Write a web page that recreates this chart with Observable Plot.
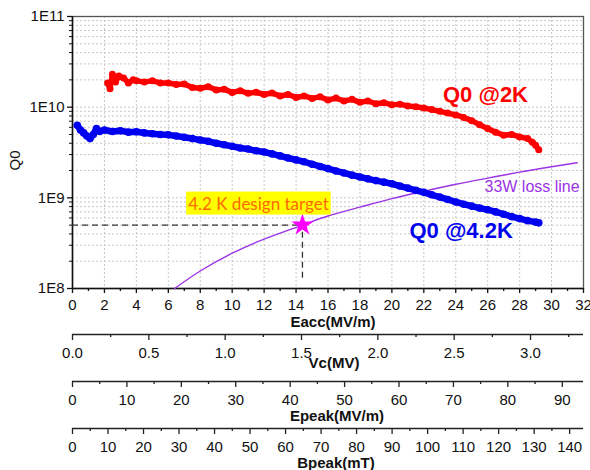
<!DOCTYPE html>
<html><head><meta charset="utf-8">
<script src="https://cdn.jsdelivr.net/npm/d3@7"></script>
<script src="https://cdn.jsdelivr.net/npm/@observablehq/plot@0.6"></script>
<style>
body{margin:0;background:#fff;}
#chart{position:relative;width:590px;height:470px;overflow:hidden;}
#chart svg{position:absolute;left:0;}
</style></head><body><div id="chart"></div>
<script>
// ---- data ----
const q0At2K = [[2.2,1.85e10],[2.35,1.6e10],[2.5,2.3e10],[2.7,1.9e10],[2.9,2.2e10],[3.2,2.1e10],[3.5,1.85e10],[3.8,2.0e10],
 [4.0,1.95e10],[4.5,1.9e10],[5.0,1.95e10],[5.5,1.85e10],[6.0,1.85e10],[6.5,1.78e10],[7.0,1.8e10],[7.5,1.65e10],[8.0,1.62e10],
 [8.5,1.68e10],[9.0,1.55e10],[9.5,1.58e10],[10.0,1.45e10],[10.5,1.52e10],[11.0,1.42e10],[11.5,1.46e10],[12.0,1.38e10],
 [12.5,1.43e10],[13.0,1.33e10],[13.5,1.38e10],[14.0,1.28e10],[14.5,1.33e10],[15.0,1.25e10],[15.5,1.3e10],[16.0,1.2e10],
 [16.5,1.26e10],[17.0,1.17e10],[17.5,1.22e10],[18.0,1.13e10],[18.5,1.17e10],[19.0,1.09e10],[19.5,1.12e10],[20.0,1.06e10],
 [20.5,1.08e10],[21.0,1.03e10],[21.5,1.01e10],[22.0,9.8e9],[22.5,9.4e9],[23.0,9.0e9],[23.5,8.6e9],[24.0,8.2e9],[24.5,7.7e9],
 [25.0,7.1e9],[25.5,6.4e9],[26.0,5.8e9],[26.5,5.3e9],[27.0,4.9e9],[27.5,5.0e9],[28.0,4.7e9],[28.5,4.5e9],[28.8,4.1e9],
 [29.0,3.8e9],[29.2,3.4e9]];
const q0At42K = [[0.3,6.3e9],[0.5,5.6e9],[0.7,5.2e9],[0.9,4.8e9],[1.1,4.5e9],[1.3,5.0e9],[1.5,5.8e9],[1.7,5.4e9],[2.0,5.6e9],
 [2.5,5.4e9],[3.0,5.5e9],[3.5,5.3e9],[4.0,5.35e9],[4.5,5.2e9],[5.0,5.1e9],[5.5,5.0e9],[6.0,4.95e9],[6.5,4.8e9],[7.0,4.65e9],
 [7.5,4.5e9],[8.0,4.35e9],[8.5,4.2e9],[9.0,4.0e9],[9.5,3.85e9],[10.0,3.7e9],[10.5,3.55e9],[11.0,3.45e9],[11.5,3.3e9],
 [12.0,3.2e9],[12.5,3.05e9],[13.0,2.9e9],[13.5,2.75e9],[14.0,2.62e9],[14.5,2.5e9],[15.0,2.35e9],[15.5,2.22e9],[16.0,2.1e9],
 [16.5,1.98e9],[17.0,1.88e9],[17.5,1.78e9],[18.0,1.7e9],[18.5,1.62e9],[19.0,1.55e9],[19.5,1.49e9],[20.0,1.43e9],[20.5,1.35e9],
 [21.0,1.28e9],[21.5,1.21e9],[22.0,1.15e9],[22.5,1.08e9],[23.0,1.02e9],[23.5,9.6e8],[24.0,9.0e8],[24.5,8.5e8],[25.0,8.1e8],
 [25.5,7.7e8],[26.0,7.4e8],[26.5,7.0e8],[27.0,6.6e8],[27.5,6.2e8],[28.0,5.9e8],[28.5,5.6e8],[29.0,5.4e8],[29.2,5.3e8]];
const lossLine33W = [[6.4,1.0e8],[8,1.56e8],[10,2.45e8],[12,3.5e8],[14.4,5.0e8],[16,6.3e8],[18,7.9e8],[20,9.8e8],[22,1.18e9],
 [24,1.41e9],[26,1.65e9],[28,1.92e9],[30,2.2e9],[31.6,2.44e9]];
const designTarget = [{eacc:14.4, q0:5e8, floor:1.3e8, label:"4.2 K design target"}];
const seriesLabels = [
  {text:"Q0 @2K", eacc:23.2, q0:1.38e10, color:"#ff0000"},
  {text:"Q0 @4.2K", eacc:21.1, q0:4.3e8, color:"#0000ee"}
];
const lossLabel = [{text:"33W loss line", eacc:25.8, q0:1.31e9}];

const eaccTicks = [0,2,4,6,8,10,12,14,16,18,20,22,24,26,28,30,32];
const eaccMinor = [1,3,5,7,9,11,13,15,17,19,21,23,25,27,29,31];
const q0Ticks = [1e8,1e9,1e10,1e11];
const q0TickLabels = ["1E8","1E9","1E10","1E11"];
const vcTicks = [0,0.5,1.0,1.5,2.0,2.5,3.0];
const vcMinor = [0.25,0.75,1.25,1.75,2.25,2.75,3.25];
const epeakTicks = [0,10,20,30,40,50,60,70,80,90];
const epeakMinor = [5,15,25,35,45,55,65,75,85];
const bpeakTicks = [0,10,20,30,40,50,60,70,80,90,100,110,120,130,140];
const bpeakMinor = [5,15,25,35,45,55,65,75,85,95,105,115,125,135];
const eaccMax = 32, vcMax = 3.347, epeakMax = 93.9, bpeakMax = 143.9;

// ---- drawing ----
const FONT = "Arial, 'Liberation Sans', sans-serif";
const q0Minor = [];
for (const d of [1e8,1e9,1e10]) for (let k=2;k<=9;k++) q0Minor.push(k*d);
const toPts = arr => arr.map(([x,y]) => ({x, y}));
const red = toPts(q0At2K), blue = toPts(q0At42K), loss = toPts(lossLine33W);
const purple = "#9b33e6";
const root = document.getElementById("chart");

const main = Plot.plot({
  width:590, height:335, marginLeft:72, marginRight:7, marginTop:16, marginBottom:47,
  style:{fontFamily:FONT, fontSize:"15px", color:"#111", background:"transparent", overflow:"visible"},
  x:{domain:[0,eaccMax], axis:null, label:null},
  y:{type:"log", domain:[1e8,1e11], axis:null, label:null},
  marks:[
    Plot.gridX({ticks:eaccTicks, stroke:"#c8c8c8", strokeOpacity:1, strokeDasharray:"2,2"}),
    Plot.gridY({ticks:q0Minor.concat(q0Ticks), stroke:"#c8c8c8", strokeOpacity:1, strokeDasharray:"2,2"}),
    Plot.frame({stroke:"#555", strokeWidth:1.3}),
    Plot.ruleY([1e8], {stroke:"#111", strokeWidth:1.5}),
    Plot.ruleX([0], {stroke:"#111", strokeWidth:1.5}),
    Plot.axisX({ticks:eaccTicks, tickSize:5, tickPadding:6, tickFormat:d=>String(d), label:null, stroke:"#111", strokeWidth:1.3}),
    Plot.axisX({ticks:eaccMinor, tickSize:3, tickFormat:()=>"", label:null, stroke:"#111", strokeWidth:1.3}),
    Plot.axisY({ticks:q0Ticks, tickSize:5, tickPadding:3, tickFormat:d=>q0TickLabels[q0Ticks.indexOf(d)], label:null, stroke:"#111", strokeWidth:1.3}),
    Plot.axisY({ticks:q0Minor, tickSize:3, tickFormat:()=>"", label:null, stroke:"#111"}),
    Plot.text(["Eacc(MV/m)"], {text:d=>d, frameAnchor:"bottom", lineAnchor:"middle", dy:34, dx:5, fontWeight:"bold", fontSize:15, fill:"#111"}),
    Plot.text(["Q0"], {text:d=>d, frameAnchor:"left", textAnchor:"middle", lineAnchor:"middle", rotate:-90, dx:-57, dy:8, fontSize:15, fill:"#111"}),
    Plot.line(loss, {x:"x", y:"y", stroke:purple, strokeWidth:1.4, curve:"natural"}),
    Plot.ruleY(designTarget, {x1:0, x2:"eacc", y:"q0", stroke:"#333", strokeWidth:1.3, strokeDasharray:"6,4"}),
    Plot.ruleX(designTarget, {x:"eacc", y1:"floor", y2:"q0", stroke:"#333", strokeWidth:1.3, strokeDasharray:"6,4"}),
    Plot.line(blue, {x:"x", y:"y", stroke:"#0000f0", strokeWidth:6.5}),
    Plot.dot(blue, {x:"x", y:"y", fill:"#0000f0", r:3.8}),
    Plot.line(red, {x:"x", y:"y", stroke:"#ff0000", strokeWidth:5.5}),
    Plot.dot(red, {x:"x", y:"y", fill:"#ff0000", r:3.5}),
    Plot.dot(designTarget, {x:"eacc", y:"q0", symbol:"star", fill:"#ff00ff", r:7}),
    Plot.text(designTarget, {x:"eacc", y:"q0", text:"label", dx:-44, dy:-21, fill:"#ff6a00", fontSize:17, fontFamily:"Lato, 'Open Sans', sans-serif", className:"target-label"}),
    Plot.text(seriesLabels.slice(0,1), {x:"eacc", y:"q0", text:"text", textAnchor:"start", fill:"#ff0000", fontSize:22, fontWeight:"bold"}),
    Plot.text(seriesLabels.slice(1,2), {x:"eacc", y:"q0", text:"text", textAnchor:"start", fill:"#0000ee", fontSize:22, fontWeight:"bold"}),
    Plot.text(lossLabel, {x:"eacc", y:"q0", text:"text", textAnchor:"start", fill:purple, fontSize:16})
  ]
});
main.style.top = "0px";
root.appendChild(main);

// yellow background behind the design-target label
const tg = main.querySelector("g.target-label text");
if (tg) {
  const b = tg.getBBox();
  const r = document.createElementNS("http://www.w3.org/2000/svg","rect");
  r.setAttribute("x", b.x-2); r.setAttribute("y", b.y-1);
  r.setAttribute("width", b.width+4); r.setAttribute("height", b.height+2);
  r.setAttribute("fill", "#ffff00");
  const tr = tg.getAttribute("transform");
  if (tr) r.setAttribute("transform", tr);
  tg.parentNode.insertBefore(r, tg);
}

function extraAxis(top, max, ticks, minor, fmt, label, labelDy, labelDx) {
  const p = Plot.plot({
    width:590, height:46, marginLeft:72, marginRight:7, marginTop:2, marginBottom:44,
    style:{fontFamily:FONT, fontSize:"15px", color:"#111", background:"transparent", overflow:"visible"},
    x:{domain:[0,max], axis:null, label:null},
    y:{domain:[0,1], range:[2,2], axis:null, label:null},
    marks:[
      Plot.ruleY([0], {stroke:"#222", strokeWidth:1.6}),
      Plot.axisX({ticks, tickSize:6, tickPadding:7, tickFormat:fmt, label:null, stroke:"#222", strokeWidth:1.3}),
      Plot.axisX({ticks:minor, tickSize:3, tickFormat:()=>"", label:null, stroke:"#222", strokeWidth:1.3}),
      Plot.text([label], {text:d=>d, frameAnchor:"bottom", lineAnchor:"middle", dy:labelDy, dx:labelDx, fontWeight:"bold", fontSize:15, fill:"#111"})
    ]
  });
  p.style.top = top + "px";
  root.appendChild(p);
}
extraAxis(332, vcMax, vcTicks, vcMinor, d=>d.toFixed(1), "Vc(MV)", 29, 6);
extraAxis(379, epeakMax, epeakTicks, epeakMinor, d=>String(d), "Epeak(MV/m)", 35, 9);
extraAxis(426, bpeakMax, bpeakTicks, bpeakMinor, d=>String(d), "Bpeak(mT)", 35, 8);
</script></body></html>
